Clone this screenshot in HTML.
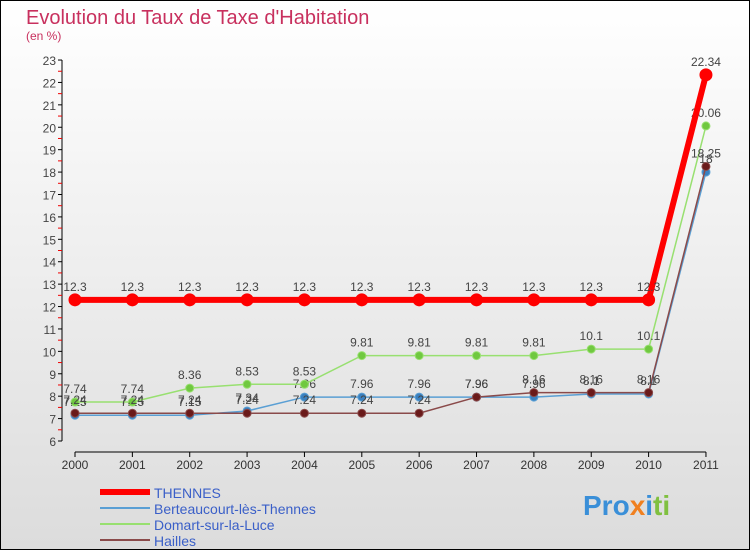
<!DOCTYPE html>
<html><head><meta charset="utf-8"><style>
body{margin:0;width:750px;height:550px;overflow:hidden}
svg{display:block;font-family:"Liberation Sans",sans-serif}
</style></head><body>
<svg id="c" width="750" height="550">
<defs><linearGradient id="bg" x1="0" y1="0" x2="0" y2="1"><stop offset="0" stop-color="#ffffff"/><stop offset="1" stop-color="#dcdcdc"/></linearGradient></defs>
<rect x="0.5" y="0.5" width="749" height="549" fill="url(#bg)" stroke="#000"/>
<text x="26" y="24" font-size="20" fill="#c8305e">Evolution du Taux de Taxe d'Habitation</text>
<text x="26" y="40" font-size="12" fill="#c8305e">(en %)</text>
<g id="axes"></g><g id="series"></g><g id="legend"></g>
<text x="583" y="515" font-size="28" font-weight="bold" fill="#3a8fd8">Pro<tspan fill="#f08020">x</tspan><tspan fill="#3a8fd8">i</tspan><tspan fill="#80c040">ti</tspan></text>
</svg>
<script>
const years=["2000","2001","2002","2003","2004","2005","2006","2007","2008","2009","2010","2011"];
const thennes=[12.3,12.3,12.3,12.3,12.3,12.3,12.3,12.3,12.3,12.3,12.3,22.34];
const berteaucourt=[7.15,7.15,7.15,7.34,7.96,7.96,7.96,7.96,7.96,8.1,8.1,18];
const domart=[7.74,7.74,8.36,8.53,8.53,9.81,9.81,9.81,9.81,10.1,10.1,20.06];
const hailles=[7.24,7.24,7.24,7.24,7.24,7.24,7.24,7.96,8.16,8.16,8.16,18.25];
const yTicks=[6,7,8,9,10,11,12,13,14,15,16,17,18,19,20,21,22,23];
const NS="http://www.w3.org/2000/svg";
const X=i=>75+i*57.36, Y=v=>441-(v-6)*22.41;
function mk(t,a,p){const e=document.createElementNS(NS,t);for(const k in a)e.setAttribute(k,a[k]);p.appendChild(e);return e;}
const ax=document.getElementById('axes');
let l=mk('line',{x1:62,y1:Y(23),x2:62,y2:Y(6),stroke:'#000'},ax);


l=mk('line',{x1:X(0),y1:452,x2:X(11),y2:452,stroke:'#000'},ax);


yTicks.forEach(v=>{mk('line',{x1:58,y1:Y(v),x2:62,y2:Y(v),stroke:'#000'},ax);
 if(v<23)mk('line',{x1:58,y1:Y(v+0.5),x2:62,y2:Y(v+0.5),stroke:'#e00'},ax);
 const t=mk('text',{x:56,y:Y(v)+5,'text-anchor':'end','font-size':12,fill:'#444'},ax);t.textContent=v;
 
 });
years.forEach((y,i)=>{mk('line',{x1:X(i),y1:452,x2:X(i),y2:457,stroke:'#000'},ax);
 const t=mk('text',{x:X(i),y:469,'text-anchor':'middle','font-size':12,fill:'#333'},ax);t.textContent=y;
 
 });
const sg=document.getElementById('series');
function series(vals,name,col,w,r,pt){
 const g=mk('g',{},sg);
 
 
 mk('polyline',{points:vals.map((v,i)=>X(i)+','+Y(v)).join(' '),fill:'none',stroke:col,'stroke-width':w},g);
 vals.forEach((v,i)=>{const c=mk('circle',{cx:X(i),cy:Y(v),r:r,fill:pt,stroke:col,'stroke-width':1},g);
  
  
  const t=mk('text',{x:X(i),y:Y(v)-9,'text-anchor':'middle','font-size':12,fill:'#444'},g);t.textContent=v;});
}
series(berteaucourt,'berteaucourt','#5a9fd4',1.5,4,'#3a80c0');
series(domart,'domart','#98e070',1.5,4,'#70c840');
series(hailles,'hailles','#8a4a4a',1.5,4,'#6a1a1a');
series(thennes,'thennes','#ff0000',6,6,'#ff0000');
const lg=document.getElementById('legend');
[["THENNES","#ff0000",6],["Berteaucourt-lès-Thennes","#5a9fd4",2],["Domart-sur-la-Luce","#98e070",2],["Hailles","#8a4a4a",2]].forEach((d,i)=>{
 const y=492+i*16;
 const g=mk('g',{},lg);
 
 
 mk('line',{x1:100,y1:y,x2:150,y2:y,stroke:d[1],'stroke-width':d[2]},g);
 const t=mk('text',{x:154,y:y+6,'font-size':14,fill:'#3a5fc8'},g);t.textContent=d[0];});
</script>
</body></html>
